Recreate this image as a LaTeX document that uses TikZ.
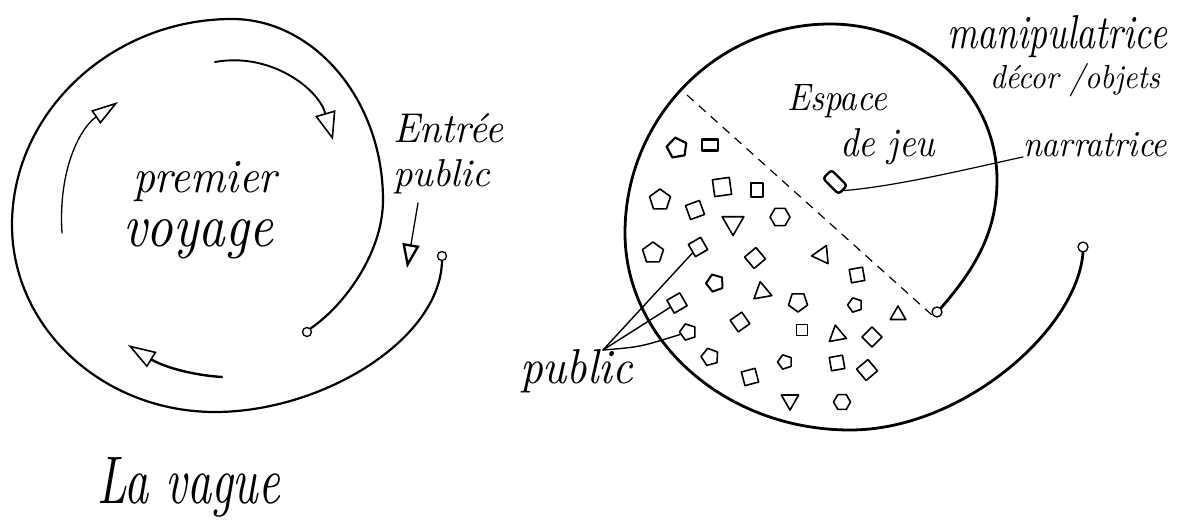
\documentclass[tikz,border=0pt]{standalone}
\usepackage{graphicx}
\usetikzlibrary{arrows.meta,shapes.geometric}
\newcommand\handfont{\itshape}
\newcommand\handw[3]{\resizebox{#1pt}{#2pt}{\handfont #3}}
\tikzset{
  lbl/.style={anchor=base west,inner sep=0pt,outer sep=0pt},
  stroke/.style={line width=2.2pt,line cap=round,line join=round},
  thin stroke/.style={line width=1.3pt,line cap=round},
  endring/.style={circle,draw,line width=1.3pt,minimum size=9pt,inner sep=0pt},
  seat/.style={draw,line width=1.6pt,inner sep=0pt,line join=round},
  poly/.style args={#1/#2/#3}{seat,regular polygon,regular polygon sides=#1,rotate=#2,minimum size=#3pt},
  opentip/.style args={#1/#2}{-{Triangle[open,length=#1pt,width=#2pt,line width=1.6pt]}}
}
\begin{document}
\begin{tikzpicture}[x=1pt,y=-1pt]
\useasboundingbox (0,0) rectangle (1190,529);
\fill[white] (0,0) rectangle (1190,529);

% ---------------- left diagram ----------------
\node[endring] (s1) at (307,332) {};
\node[endring] (s2) at (442,256) {};
\draw[stroke] (s1.north east) .. controls (345,305) and (383,252) .. (383,200)
  .. controls (383,100) and (314,19) .. (232,19)
  .. controls (112,19) and (12,112) .. (12,225)
  .. controls (12,328) and (103,412) .. (215,412)
  .. controls (322,412) and (440,340) .. (s2.south);

\coordinate (t1s) at (215,62);
\coordinate (t1e) at (333,140);
\draw[line width=1.9pt,line cap=round,opentip=28/21] (t1s) .. controls (270,52) and (318,88) .. (t1e);

\coordinate (t2s) at (62,233);
\coordinate (t2e) at (118,102);
\draw[thin stroke,opentip=27/16] (t2s) .. controls (58,170) and (80,128) .. (t2e);

\coordinate (t3s) at (222,377);
\coordinate (t3e) at (128,345);
\draw[line width=2.4pt,line cap=round,opentip=28/18] (t3s) .. controls (190,375) and (162,366) .. (t3e);

\node[lbl] (prem) at (133,193) {\handw{144}{31}{premier}};
\node[lbl] (voy) at (123,247) {\handw{150}{27}{voyage}};
\node[lbl] (entree) at (393,143) {\handw{110}{29}{Entrée}};
\node[lbl] (pubL) at (393,187) {\handw{97}{27}{public}};
\coordinate (t4s) at (418,203);
\draw[thin stroke,-{Triangle[open,length=24pt,width=17pt,line width=2.4pt]}] (t4s) -- (407,268);
\node[lbl] (vague) at (97,503) {\handw{183}{46}{La vague}};

% ---------------- right diagram ----------------
\node[endring,minimum size=10pt] (r1) at (937,312) {};
\node[endring,minimum size=10pt] (r2) at (1083,247) {};
\draw[line width=2.8pt,line cap=round,line join=round] (r1.north east) .. controls (972,272) and (997,235) .. (997,180)
  .. controls (997,94) and (922,24) .. (830,24)
  .. controls (717,24) and (625,118) .. (625,233)
  .. controls (625,341) and (726,430) .. (850,430)
  .. controls (962,430) and (1077,330) .. (r2.south);

\coordinate (d0) at (687,95);
\draw[line width=1.2pt,dash pattern=on 9pt off 7pt] (d0) -- (r1.south west);

\node[lbl] (esp) at (787,111) {\handw{100}{26}{Espace}};
\node[lbl] (jeu) at (840,157) {\handw{95}{28}{de jeu}};
\node[lbl] (manip) at (947,49) {\handw{220}{33}{manipulatrice}};
\node[lbl] (decor) at (990,89) {\handw{170}{25}{décor /objets}};
\node[lbl] (narr) at (1023,157) {\handw{144}{24}{narratrice}};
\node[lbl] (pubR) at (520,383) {\handw{113}{34}{public}};

\node[seat,rectangle,rounded corners=3pt,line width=2.4pt,minimum width=22pt,minimum height=12pt,rotate=-45] (nar) at (835,182) {};
\draw[thin stroke,line width=1.2pt] (nar.east) .. controls (900,186) and (980,166) .. (narr.base west);

% audience
\node[poly=5/10/21,line width=2.2pt] (a1) at (677,148) {};
\node[seat,rectangle,line width=2.2pt,minimum width=16pt,minimum height=11pt] (a2) at (710,145) {};
\node[poly=4/8/24] (a3) at (722,187) {};
\node[seat,rectangle,line width=2.2pt,minimum width=12pt,minimum height=14pt] (a4) at (757,190) {};
\node[poly=5/0/22] (a5) at (660,200) {};
\node[poly=4/20/21] (a6) at (695,210) {};
\node[poly=3/180/25] (a7) at (733,223) {};
\node[poly=6/0/20] (a8) at (780,217) {};
\node[poly=5/0/22] (a9) at (653,253) {};
\node[poly=4/30/20] (a10) at (698,247) {};
\node[poly=4/40/21] (a11) at (755,258) {};
\node[poly=3/-25/21] (a12) at (822,255) {};
\node[poly=4/10/19] (a13) at (857,275) {};
\node[poly=5/20/18,line width=2pt] (a14) at (715,283) {};
\node[poly=3/10/21] (a15) at (762,292) {};
\node[poly=5/180/20] (a16) at (798,302) {};
\node[poly=4/30/21] (a17) at (677,303) {};
\node[poly=5/90/15] (a18) at (855,305) {};
\node[poly=3/0/18] (a19) at (898,315) {};
\node[poly=5/90/17] (a20) at (688,332) {};
\node[poly=4/35/20] (a21) at (740,322) {};
\node[poly=4/0/16] (a22) at (802,330) {};
\node[poly=3/10/20] (a23) at (837,335) {};
\node[poly=4/45/20] (a24) at (872,337) {};
\node[poly=5/15/18] (a25) at (710,357) {};
\node[poly=5/90/15] (a26) at (785,362) {};
\node[poly=4/10/19] (a27) at (837,363) {};
\node[poly=4/40/21] (a28) at (867,370) {};
\node[poly=4/15/20] (a29) at (750,377) {};
\node[poly=3/180/20] (a30) at (790,400) {};
\node[poly=6/0/17] (a31) at (842,402) {};

\coordinate (pj) at (603,350);
\draw[thin stroke,line width=1.4pt] (pj) -- (a10);
\draw[thin stroke,line width=1.4pt] (pj) -- (a17);
\draw[thin stroke,line width=1.4pt] (pj) .. controls (640,347) .. (a20);
\end{tikzpicture}
\end{document}
